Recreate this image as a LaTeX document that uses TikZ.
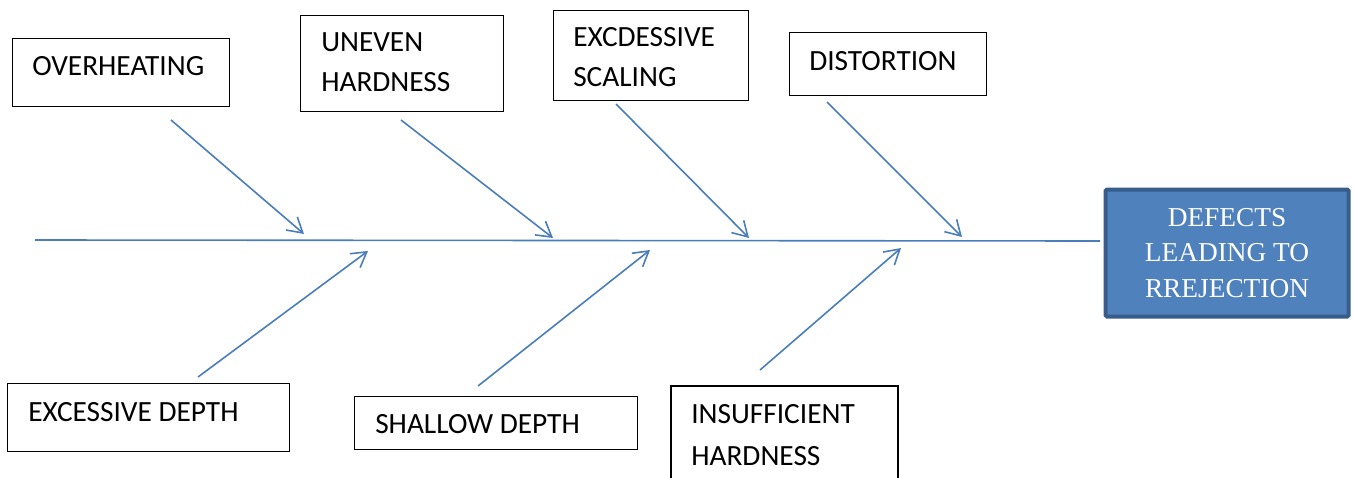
\documentclass[tikz,border=0pt]{standalone}
\usepackage{fontspec}
\setmainfont{Carlito}
\newfontfamily\timesfont{Liberation Serif}
\usetikzlibrary{arrows.meta}
\definecolor{lineblue}{HTML}{4A7EBB}
\definecolor{boxfill}{HTML}{4F81BD}
\definecolor{boxedge}{HTML}{385D8A}
\begin{document}
\begin{tikzpicture}[x=0.75pt,y=-0.75pt,
  cbox/.style={draw=black, line width=1pt, rectangle, inner sep=0pt, anchor=north west},
  txt/.style={anchor=base west, inner sep=0pt, font=\fontsize{22}{30}\selectfont, align=left},
  bone/.style={draw=lineblue, line width=1.2pt, -{Straight Barb[length=11pt,width=13pt,line width=1.2pt]}},
  spine/.style={draw=lineblue, line width=1.2pt}]
\useasboundingbox (0,0) rectangle (1353,478);
% boxes
\node[cbox, minimum width=217*0.75pt, minimum height=68*0.75pt] (b1) at (12,38) {};
\node[txt] at (32,75) {OVERHEATING};
\node[cbox, minimum width=203*0.75pt, minimum height=96*0.75pt] (b2) at (300,15) {};
\node[txt] at (321,52) {UNEVEN};
\node[txt] at (321,92) {HARDNESS};
\node[cbox, minimum width=195*0.75pt, minimum height=90*0.75pt] (b3) at (553,10) {};
\node[txt] at (573,47) {EXCDESSIVE};
\node[txt] at (573,87) {SCALING};
\node[cbox, minimum width=197*0.75pt, minimum height=63*0.75pt] (b4) at (789,32) {};
\node[txt] at (809,70) {DISTORTION};
\node[cbox, minimum width=282*0.75pt, minimum height=68*0.75pt] (b5) at (7,383) {};
\node[txt] at (28,421) {EXCESSIVE DEPTH};
\node[cbox, minimum width=283*0.75pt, minimum height=53*0.75pt] (b6) at (354,396) {};
\node[txt] at (375,433) {SHALLOW DEPTH};
\draw[draw=black, line width=1pt] (671,480) -- (671,386) -- (898,386) -- (898,480);
\node[txt] at (691,423) {INSUFFICIENT};
\node[txt] at (691,465) {HARDNESS};
% head
\node[draw=boxedge, fill=boxfill, line width=3pt, rounded corners=1pt, minimum width=243*0.75pt, minimum height=127*0.75pt, inner sep=0pt, text=white, align=center, font=\timesfont\fontsize{20.5}{26.6}\selectfont] (head) at (1227,253) {DEFECTS\\LEADING TO\\RREJECTION};
% spine
\coordinate (tail) at (35,240);
\coordinate (spineend) at (1100,241);
\draw[spine] (tail) -- (spineend);
% bones
\coordinate (s1) at (171,120); \coordinate (e1) at (304,234);
\coordinate (s2) at (401,120); \coordinate (e2) at (553,238);
\coordinate (s3) at (616,104); \coordinate (e3) at (749,238);
\coordinate (s4) at (827,102); \coordinate (e4) at (962,237);
\coordinate (s5) at (198,377); \coordinate (e5) at (368,251);
\coordinate (s6) at (478,386); \coordinate (e6) at (650,250);
\coordinate (s7) at (760,370); \coordinate (e7) at (901,248);
\foreach \i in {1,...,7} {\draw[bone] (s\i) -- (e\i);}
\end{tikzpicture}
\end{document}
